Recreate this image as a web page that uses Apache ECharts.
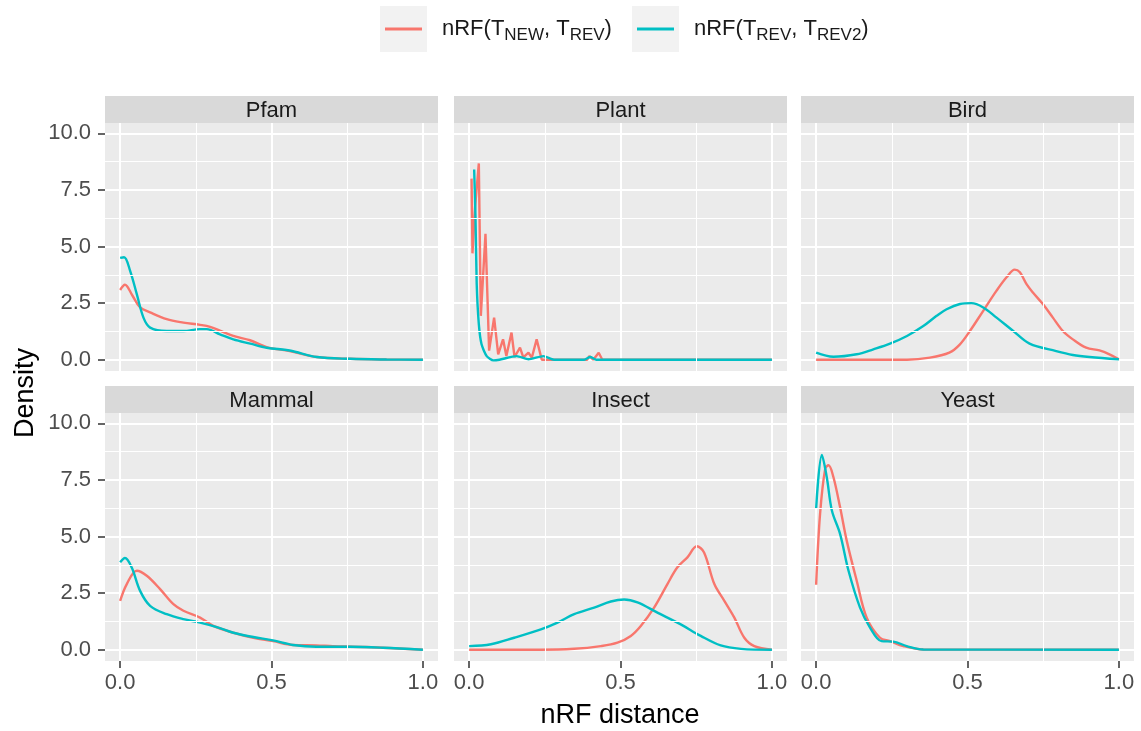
<!DOCTYPE html>
<html lang="en">
<head>
    <meta charset="UTF-8">
    <title>nRF distance density</title>
    <style>
        html, body { margin: 0; padding: 0; background: #fff; }
    </style>
</head>
<body>
<div id="chartBox" style="width: 1141px;height: 731px;"></div>
<script type="text/javascript" src="https://cdn.jsdelivr.net/npm/echarts@6/dist/echarts.min.js"></script>
<script type="text/javascript">
    // facet names, in reading order
    var panelNames = ['Pfam', 'Plant', 'Bird', 'Mammal', 'Insect', 'Yeast'];
    var xTicks = [0, 0.5, 1.0];
    var yTicks = [0, 2.5, 5, 7.5, 10];
    var xMinor = [0.25, 0.75];
    var yMinor = [1.25, 3.75, 6.25, 8.75];

    // [nRF distance, density]
    var pfamNew = [[0,3.08],[0.016,3.31],[0.04,2.85],[0.066,2.31],[0.099,2.09],[0.154,1.79],[0.209,1.64],[0.264,1.54],[0.297,1.45],[0.374,1.05],[0.429,0.86],[0.484,0.56],[0.56,0.38],[0.65,0.12],[0.76,0.04],[0.88,0.01],[1,0]];
    var pfamRev = [[0,4.5],[0.013,4.53],[0.033,3.93],[0.055,2.9],[0.077,1.86],[0.099,1.42],[0.154,1.27],[0.209,1.27],[0.264,1.35],[0.286,1.35],[0.33,1.12],[0.374,0.9],[0.43,0.71],[0.484,0.53],[0.56,0.41],[0.65,0.12],[0.76,0.04],[0.88,0.01],[1,0]];
    var plantNew = [[0.008,8.0],[0.011,4.7],[0.02,6.8],[0.032,8.67],[0.0386,1.94],[0.054,5.56],[0.066,0.4],[0.0825,1.86],[0.096,0.24],[0.112,0.9],[0.123,0.16],[0.14,1.2],[0.15,0.12],[0.168,0.53],[0.179,0.1],[0.196,0.31],[0.207,0.09],[0.223,0.9],[0.24,0],[0.39,0],[0.397,0.16],[0.41,0],[0.428,0.31],[0.44,0],[1,0]];
    var plantRev = [[0.0166,8.4],[0.021,6.3],[0.025,3.35],[0.032,1.57],[0.041,0.68],[0.058,0.16],[0.08,-0.03],[0.1,0],[0.157,0.16],[0.196,0.02],[0.245,0.16],[0.28,0],[0.38,0],[0.4,0.12],[0.42,0],[1,0]];
    var birdNew = [[0,0],[0.3,0],[0.376,0.09],[0.44,0.31],[0.475,0.68],[0.508,1.27],[0.552,2.16],[0.596,3.05],[0.629,3.64],[0.656,3.98],[0.673,3.86],[0.695,3.34],[0.716,2.97],[0.749,2.46],[0.782,1.86],[0.815,1.27],[0.848,0.9],[0.892,0.53],[0.936,0.41],[0.969,0.24],[1,0.02]];
    var birdRev = [[0,0.31],[0.057,0.13],[0.134,0.24],[0.189,0.46],[0.244,0.71],[0.3,1.05],[0.354,1.49],[0.398,1.94],[0.431,2.23],[0.475,2.46],[0.513,2.5],[0.552,2.31],[0.596,1.86],[0.651,1.27],[0.705,0.71],[0.793,0.38],[0.848,0.21],[0.903,0.12],[1,0.02]];
    var mammalNew = [[0,2.16],[0.022,2.9],[0.055,3.49],[0.088,3.27],[0.132,2.68],[0.176,2.01],[0.209,1.72],[0.264,1.42],[0.308,1.05],[0.374,0.75],[0.44,0.53],[0.505,0.38],[0.571,0.21],[0.648,0.19],[0.703,0.16],[0.813,0.12],[1,0]];
    var mammalRev = [[0,3.86],[0.016,4.05],[0.038,3.64],[0.066,2.6],[0.099,1.94],[0.154,1.57],[0.209,1.35],[0.264,1.2],[0.319,1.0],[0.374,0.75],[0.44,0.56],[0.505,0.41],[0.571,0.21],[0.648,0.13],[0.758,0.13],[0.868,0.09],[1,0]];
    var insectNew = [[0,0],[0.237,0],[0.347,0.04],[0.435,0.16],[0.49,0.31],[0.534,0.61],[0.567,1.05],[0.611,1.86],[0.655,2.9],[0.688,3.64],[0.721,4.08],[0.752,4.57],[0.776,4.3],[0.81,2.9],[0.843,2.16],[0.876,1.42],[0.909,0.53],[0.942,0.16],[1,0]];
    var insectRev = [[0,0.16],[0.072,0.24],[0.149,0.53],[0.237,0.9],[0.292,1.2],[0.347,1.57],[0.413,1.86],[0.468,2.13],[0.512,2.22],[0.556,2.09],[0.622,1.64],[0.699,1.12],[0.765,0.61],[0.831,0.19],[0.898,0.04],[1,0]];
    var yeastNew = [[0,2.87],[0.013,6.0],[0.03,8.0],[0.041,8.15],[0.057,7.63],[0.079,6.3],[0.101,4.82],[0.134,3.05],[0.167,1.42],[0.211,0.53],[0.244,0.38],[0.288,0.16],[0.354,0.01],[1,0]];
    var yeastRev = [[0,6.23],[0.019,8.6],[0.035,7.63],[0.052,6.15],[0.079,5.12],[0.107,3.49],[0.145,1.86],[0.178,0.98],[0.216,0.38],[0.255,0.36],[0.299,0.16],[0.354,0.01],[1,0]];

    var newSeries = [pfamNew, plantNew, birdNew, mammalNew, insectNew, yeastNew];
    var revSeries = [pfamRev, plantRev, birdRev, mammalRev, insectRev, yeastRev];

    var NAME_NEW = 'nRF(T_NEW, T_REV)';
    var NAME_REV = 'nRF(T_REV, T_REV2)';
    var RED = '#F8766D', TEAL = '#00BFC4';
    var FONT = 'Arial, "Liberation Sans", sans-serif';

    var colLeft = [105, 454, 801];
    var rowTop = [123, 413];
    var panelW = 333, panelH = 248, stripH = 27;

    function buildOption() {
        var grids = [], xAxes = [], yAxes = [], series = [], graphics = [];

        for (var i = 0; i < panelNames.length; i++) {
            var row = Math.floor(i / 3), col = i % 3;
            var px = colLeft[col], py = rowTop[row];
            grids.push({
                left: px, top: py, width: panelW, height: panelH,
                show: true, backgroundColor: '#EBEBEB', borderWidth: 0
            });
            xAxes.push({
                gridIndex: i, type: 'value', min: -0.05, max: 1.05,
                axisLine: {show: false, onZero: false},
                axisTick: {show: row === 1, customValues: xTicks, length: 7, lineStyle: {color: '#333', width: 1.5}},
                axisLabel: {show: row === 1, customValues: xTicks, margin: 11, fontSize: 22, color: '#4D4D4D', fontFamily: FONT,
                    formatter: function (v) { return v.toFixed(1); }},
                splitLine: {show: true, lineStyle: {color: '#fff', width: 2}}
            });
            yAxes.push({
                gridIndex: i, type: 'value', min: -0.498, max: 10.458,
                axisLine: {show: false, onZero: false},
                axisTick: {show: col === 0, customValues: yTicks, length: 7, lineStyle: {color: '#333', width: 1.5}},
                axisLabel: {show: col === 0, customValues: yTicks, margin: 14, fontSize: 22, color: '#4D4D4D', fontFamily: FONT,
                    formatter: function (v) { return v.toFixed(1); }},
                splitLine: {show: true, lineStyle: {color: '#fff', width: 2}}
            });

            // minor grid lines, kept under the curves
            var minorLines = xMinor.map(function (v) { return {xAxis: v}; })
                .concat(yMinor.map(function (v) { return {yAxis: v}; }));
            series.push({
                type: 'line', xAxisIndex: i, yAxisIndex: i, data: [], z: 1, silent: true,
                markLine: {silent: true, symbol: 'none', label: {show: false},
                    lineStyle: {color: '#fff', width: 1, type: 'solid'}, data: minorLines}
            });

            var plant = panelNames[i] === 'Plant';
            series.push({
                name: NAME_NEW, type: 'line', xAxisIndex: i, yAxisIndex: i, data: newSeries[i], z: 3,
                showSymbol: false, smooth: plant ? false : 0.35,
                lineStyle: {color: RED, width: 2.4}, itemStyle: {color: RED}
            });
            series.push({
                name: NAME_REV, type: 'line', xAxisIndex: i, yAxisIndex: i, data: revSeries[i], z: 4,
                showSymbol: false, smooth: plant ? 0.2 : 0.35,
                lineStyle: {color: TEAL, width: 2.4}, itemStyle: {color: TEAL}
            });

            // facet strip
            graphics.push({
                type: 'rect', z: 0,
                shape: {x: px, y: py - stripH, width: panelW, height: stripH},
                style: {fill: '#D9D9D9'}
            });
            graphics.push({
                type: 'text', z: 1, x: px + panelW / 2, y: py - stripH / 2 + 1,
                style: {text: panelNames[i], fill: '#1A1A1A', fontSize: 22, fontFamily: FONT,
                    textAlign: 'center', textVerticalAlign: 'middle'}
            });
        }

        // legend key boxes
        graphics.push({type: 'rect', z: 0, shape: {x: 380, y: 6, width: 47, height: 46}, style: {fill: '#F2F2F2'}});
        graphics.push({type: 'rect', z: 0, shape: {x: 632, y: 6, width: 47, height: 46}, style: {fill: '#F2F2F2'}});

        // axis titles
        graphics.push({
            type: 'text', x: 620, y: 716,
            style: {text: 'nRF distance', fill: '#000', fontSize: 27, fontFamily: FONT,
                textAlign: 'center', textVerticalAlign: 'middle'}
        });
        graphics.push({
            type: 'text', x: 26, y: 393, rotation: Math.PI / 2,
            style: {text: 'Density', fill: '#000', fontSize: 27, fontFamily: FONT,
                textAlign: 'center', textVerticalAlign: 'middle'}
        });

        var legendRich = {
            g: {width: 15},
            m: {fontSize: 22, lineHeight: 30, color: '#1A1A1A', fontFamily: FONT},
            s: {fontSize: 17, lineHeight: 17, verticalAlign: 'bottom', color: '#1A1A1A', fontFamily: FONT}
        };

        function legendAt(x, name, label) {
            return {
                data: [name], left: x, top: 18, padding: 0, selectedMode: false,
                icon: 'rect', itemWidth: 37, itemHeight: 3,
                formatter: function () { return label; },
                textStyle: {rich: legendRich}
            };
        }

        return {
            animation: false,
            textStyle: {fontFamily: FONT},
            legend: [
                legendAt(385, NAME_NEW, '{g|}{m|nRF(T}{s|NEW}{m|, T}{s|REV}{m|)}'),
                legendAt(637, NAME_REV, '{g|}{m|nRF(T}{s|REV}{m|, T}{s|REV2}{m|)}')
            ],
            grid: grids,
            xAxis: xAxes,
            yAxis: yAxes,
            series: series,
            graphic: graphics
        };
    }

    var myChart = echarts.init(document.getElementById('chartBox'));
    myChart.setOption(buildOption());
</script>
</body>
</html>
